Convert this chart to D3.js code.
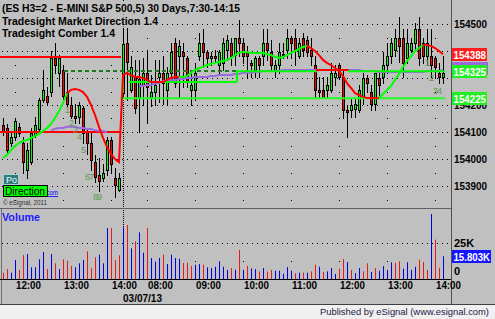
<!DOCTYPE html>
<html>
<head>
<meta charset="utf-8">
<script src="https://cdn.jsdelivr.net/npm/d3@7"></script>
<style>
  body { margin: 0; background: #c0c0c0; }
  svg { display: block; }
  text { font-family: "Liberation Sans", Arial, sans-serif; }
</style>
</head>
<body>
<div id="chart"></div>
<script>

// 5 min bars: 11:45..14:10 (day 1), then 07:30..14:10 on 03/07/13
var opens = [154125,154115,154060,154080,154120,154060,153960,153990,154090,154110,
  154220,154235,154250,154375,154320,154330,154250,154200,154160,154155,
  154190,154100,154060,153990,153940,153930,153960,154070,153930,153885,
  154245,154430,154255,154305,154230,154275,154320,154230,154250,154305,
  154320,154255,154320,154430,154380,154395,154375,154255,154255,154380,
  154430,154395,154375,154380,154350,154355,154405,154430,154385,154450,
  154430,154395,154355,154330,154375,154380,154430,154395,154330,154350,
  154390,154405,154450,154450,154380,154450,154440,154405,154350,154255,
  154255,154255,154255,154305,154350,154305,154180,154180,154185,154180,
  154225,154300,154250,154205,154300,154305,154350,154380,154405,154450,
  154450,154375,154405,154430,154480,154430,154380,154380,154375,154320,
  154305];
var highs = [154150,154130,154095,154150,154135,154080,154060,154115,154155,154225,
  154330,154265,154400,154430,154385,154350,154320,154230,154205,154210,
  154195,154115,154095,154015,154005,153980,154080,154080,153965,153950,
  154485,154485,154380,154365,154365,154375,154405,154310,154365,154365,
  154380,154340,154430,154450,154440,154430,154380,154320,154355,154465,
  154480,154405,154395,154405,154405,154450,154460,154450,154450,154515,
  154450,154420,154365,154380,154380,154480,154480,154440,154365,154430,
  154430,154480,154455,154480,154450,154465,154455,154450,154380,154305,
  154305,154305,154355,154350,154355,154330,154195,154225,154225,154275,
  154320,154310,154275,154320,154320,154395,154430,154450,154480,154525,
  154480,154480,154450,154505,154525,154450,154480,154480,154380,154355,
  154380];
var lows = [154090,154025,154050,154070,154085,153950,153930,153980,154080,154100,
  154210,154205,154235,154320,154270,154210,154195,154150,154135,154135,
  154060,154020,153960,153915,153880,153920,153940,153950,153860,153880,
  154225,154220,154250,154170,154100,154200,154135,154195,154200,154210,
  154205,154200,154300,154265,154225,154265,154265,154200,154220,154365,
  154340,154340,154350,154360,154320,154330,154365,154350,154350,154380,
  154355,154305,154305,154305,154305,154350,154365,154335,154305,154320,
  154375,154375,154375,154350,154375,154380,154380,154350,154225,154225,
  154225,154225,154250,154275,154295,154150,154080,154155,154155,154175,
  154205,154250,154180,154180,154225,154280,154320,154355,154380,154360,
  154305,154355,154395,154405,154350,154355,154350,154305,154300,154280,
  154280];
var closes = [154100,154035,154080,154140,154095,153990,154035,154095,154125,154220,
  154255,154210,154375,154350,154375,154235,154205,154160,154150,154200,
  154095,154060,153995,153935,153920,153950,154070,153980,153905,153930,
  154425,154360,154340,154190,154295,154320,154265,154250,154275,154320,
  154280,154320,154395,154280,154420,154380,154285,154275,154320,154430,
  154395,154375,154380,154375,154395,154430,154440,154380,154450,154430,
  154380,154380,154350,154375,154350,154430,154405,154350,154350,154395,
  154385,154450,154430,154405,154430,154405,154395,154380,154255,154250,
  154225,154275,154320,154320,154305,154180,154175,154200,154205,154255,
  154300,154280,154205,154320,154275,154350,154380,154430,154450,154420,
  154355,154430,154430,154480,154375,154380,154430,154350,154340,154305,
  154320];

// volume in thousands, colour B = blue, R = red
var volumes = [4.4,6.9,4.4,13.2,6.3,16.7,17.4,8.1,8.1,13.7,
  18.8,6.9,17.4,10.9,6.9,13.7,12.7,9.0,8.1,10.9,
  13.2,19.2,7.6,15.1,16.9,10.9,35.4,35.4,13.2,16.5,
  35.9,37.5,21.3,26.2,32.4,18.3,35.4,14.6,12.0,14.6,
  16.9,10.4,16.9,14.6,14.1,11.1,11.3,9.0,9.9,10.4,
  9.9,8.1,7.6,8.5,12.3,8.5,6.3,7.6,6.5,20.1,
  6.3,9.2,7.4,6.9,5.3,7.6,5.1,6.3,5.8,5.8,
  3.7,8.3,5.8,4.0,4.4,4.4,4.4,5.3,9.9,8.5,
  4.9,5.3,7.6,3.5,7.2,13.9,11.8,6.3,4.0,7.6,
  5.3,10.9,4.9,7.6,5.8,9.0,6.3,11.6,11.1,12.3,
  7.2,11.6,6.3,8.5,13.4,11.8,6.3,45.1,27.3,7.8,
  15.803];
var volColors = ("RRBBRRBBBBBRBRBRRRBBBRRRBBBRRR" +
  "BRBRBBRBBBRBBBBRRRBBRBBBBBBRBRBR" +
  "BBRBRRBBBBBRBRB" + "RRBRBBBRRBRBBRRBRBBBBRRBBBBRRRBRRB").split("");

// Tradesight Comber line
var comber = [154004,154015,154033,154048,154059,154067,154070,154078,154085,154093,
  154104,154115,154130,154152,154178,154207,154244,154256,154259,154256,
  154248,154230,154200,154163,154119,154078,154044,154019,154000,153989,
  154311,154319,154311,154304,154304,154300,154293,154285,154285,154285,
  154285,154293,154300,154304,154304,154304,154307,154319,154330,154337,
  154341,154348,154352,154356,154359,154363,154367,154374,154385,154393,
  154396,154396,154393,154393,154393,154393,154389,154385,154378,154374,
  154378,154385,154393,154400,154407,154415,154419,154411,154400,154385,
  154367,154356,154348,154337,154326,154307,154281,154263,154244,154237,
  154230,154226,154226,154226,154226,154241,154256,154270,154293,154315,
  154341,154363,154381,154400,154411,154422,154422,154419,154411,154400,
  154388];
var comberRuns = [[0,16,"up"],[16,44,"down"],[44,76,"up"],[76,94,"down"],[94,105,"up"],[105,110,"down"]];

// purple average line
var purple = [null,null,null,null,null,null,null,null,null,null,
  null,null,154107,154111,154115,154115,154119,154119,154119,154115,
  154115,154111,154111,154107,154104,154104,154100,null,null,null,
  null,null,null,null,154270,154270,154274,154274,154281,154281,
  154289,154289,154293,154293,154296,154296,154300,154300,154304,154304,
  154304,154304,154307,154307,154311,154311,154311,154311,154315,154315,
  154319,154319,154319,154322,154322,154326,154326,154326,154326,154326,
  154330,154330,154330,154330,154330,154330,154330,154330,154330,154330,
  154330,154330,154330,154330,154330,154330,154330,154330,154330,154330,
  154326,154326,154326,154326,154322,154322,154322,154322,154322,154322,
  154322,154322,154322,154322,154322,154322,154326,154326,154326,154326,
  154330];

// Market Direction stop line: [first bar, last bar, level, direction]
var stopRuns = [[32,58,154285,"up"],[59,78,154325,"up"],[79,86,154330,"down"],[87,110,154325,"up"]];

// horizontal levels: [first bar, last bar, level, style]
var levels = [[0,29,154378,"red"],[0,29,154100,"red"],[16,58,154326,"dash"],[30,110,154225,"lime"]];

// TD style counts
var countBars = [16,17,18,19,20,21,22,23,24,106,107,108,109];
var countText = ["1","2","3","4","5","6","7","8","9","1","2","3","4"];
var countLevel = [154181,154133,154107,154081,154033,153933,153933,153859,153859,154356,154300,154252,154252];

var priceTicks = [153900,154000,154100,154200,154300,154400,154500];
var priceLabels = [153900,154000,154100,154200,154500];
var halfLevels = [153850,153950,154050,154150,154250,154350,154450];
var tickBars = [3,15,27,36,48,60,72,84,96,108];
var tickLabels = ["12:00","13:00","14:00","08:00","09:00","10:00","11:00","12:00","13:00","14:00"];
var dayBreak = 30;

var W = 495, H = 319, plotRight = 452;

var x = d3.scaleLinear().domain([0, 110]).range([3, 443]);
var y = d3.scaleLinear().domain([153900, 154500]).range([186, 24]);
var yv = d3.scaleLinear().domain([0, 25]).range([279, 243]);

var RED = "#ff0000", GREEN = "#00ff00";

var svg = d3.select("#chart").append("svg")
    .attr("width", W).attr("height", H);

svg.append("rect").attr("width", W).attr("height", H).attr("fill", "#c0c0c0");

svg.append("clipPath").attr("id", "pc")
  .append("rect").attr("x", 0).attr("y", 0).attr("width", plotRight).attr("height", 207);

function fit(sel, w) { return sel.attr("textLength", w).attr("lengthAdjust", "spacingAndGlyphs"); }

// grid
var grid = svg.append("g");
grid.selectAll(".hg").data(priceTicks).enter().append("line")
  .attr("x1", 2).attr("x2", 449)
  .attr("y1", function(d){ return Math.round(y(d)) + 0.5; })
  .attr("y2", function(d){ return Math.round(y(d)) + 0.5; })
  .attr("stroke", "#000").attr("stroke-dasharray", "1,4");
grid.append("line").attr("x1", 2).attr("x2", 449)
  .attr("y1", Math.round(yv(25)) + 0.5).attr("y2", Math.round(yv(25)) + 0.5)
  .attr("stroke", "#000").attr("stroke-dasharray", "1,4");
tickBars.forEach(function(b){
  halfLevels.concat([null]).forEach(function(l){
    grid.append("rect")
      .attr("x", x(b)).attr("y", l === null ? Math.round(yv(12.5)) : Math.round(y(l)))
      .attr("width", 1).attr("height", 1).attr("fill", "#000");
  });
});
grid.append("line")
  .attr("x1", x(dayBreak) + 0.5).attr("x2", x(dayBreak) + 0.5)
  .attr("y1", 0).attr("y2", 279)
  .attr("stroke", "#000").attr("stroke-dasharray", "1,1");

// candles
var pane = svg.append("g").attr("clip-path", "url(#pc)");
var bars = pane.selectAll(".bar").data(d3.range(opens.length)).enter().append("g");
bars.append("line")
  .attr("x1", function(i){ return x(i) + 0.5; })
  .attr("x2", function(i){ return x(i) + 0.5; })
  .attr("y1", function(i){ return Math.round(y(highs[i])); })
  .attr("y2", function(i){ return Math.round(y(lows[i])) + 1; })
  .attr("stroke", "#000");
bars.append("rect")
  .attr("x", function(i){ return x(i) - 0.5; })
  .attr("y", function(i){ return Math.round(y(Math.max(opens[i], closes[i]))) + 0.5; })
  .attr("width", 2)
  .attr("height", function(i){
    return Math.max(1, Math.round(y(Math.min(opens[i], closes[i]))) - Math.round(y(Math.max(opens[i], closes[i]))));
  })
  .attr("fill", function(i){ return closes[i] >= opens[i] ? GREEN : RED; })
  .attr("stroke", "#000");

// studies
levels.forEach(function(l){
  pane.append("line")
    .attr("x1", x(l[0]) - 3).attr("x2", x(l[1]) + 2)
    .attr("y1", y(l[2])).attr("y2", y(l[2]))
    .attr("stroke", l[3] == "red" ? RED : l[3] == "dash" ? "#1e7a1e" : "#22ff22")
    .attr("stroke-width", 2)
    .attr("stroke-dasharray", l[3] == "dash" ? "4,3" : null);
});

var pline = d3.line()
  .defined(function(i){ return purple[i] !== null; })
  .x(function(i){ return x(i); })
  .y(function(i){ return y(purple[i]); });
pane.append("path").attr("d", pline(d3.range(purple.length)))
  .attr("fill", "none").attr("stroke", "#9a6ae0").attr("stroke-width", 2);

stopRuns.forEach(function(r, k){
  var pts = [];
  if (k > 0) pts.push([x(r[0]) - 2, y(stopRuns[k-1][2])]);
  pts.push([x(r[0]) - 2, y(r[2])]);
  pts.push([x(r[1]) + 2, y(r[2])]);
  pane.append("path").attr("d", d3.line()(pts))
    .attr("fill", "none").attr("stroke", r[3] == "up" ? GREEN : RED).attr("stroke-width", 2);
});

var cline = d3.line()
  .x(function(i){ return x(i); })
  .y(function(i){ return y(comber[i]); });
comberRuns.forEach(function(r){
  pane.append("path").attr("d", cline(d3.range(r[0], r[1] + 1)))
    .attr("fill", "none").attr("stroke", r[2] == "up" ? GREEN : RED).attr("stroke-width", 2);
});

// count labels
svg.selectAll(".cnt").data(countBars).enter().append("text")
  .attr("x", function(d){ return x(d) + 0.5; })
  .attr("y", function(d, i){ return y(countLevel[i]); })
  .attr("dy", "0.35em").attr("text-anchor", "middle")
  .attr("font-size", 9).attr("fill", "#5a9c4c")
  .text(function(d, i){ return countText[i]; });

// volume
svg.selectAll(".vol").data(volumes).enter().append("line")
  .attr("x1", function(d, i){ return x(i) + 0.5; })
  .attr("x2", function(d, i){ return x(i) + 0.5; })
  .attr("y1", yv(0)).attr("y2", function(d){ return yv(d); })
  .attr("stroke", function(d, i){ return volColors[i] == "B" ? "#0000e8" : "#e81818"; });

// frame
svg.append("line").attr("x1", 0).attr("x2", plotRight).attr("y1", 208.5).attr("y2", 208.5).attr("stroke", "#606060");
svg.append("line").attr("x1", 1.5).attr("x2", 1.5).attr("y1", 209).attr("y2", 304).attr("stroke", "#707070");
svg.append("line").attr("x1", 0).attr("x2", plotRight).attr("y1", 279.5).attr("y2", 279.5).attr("stroke", "#000");
svg.append("line").attr("x1", plotRight - 0.5).attr("x2", plotRight - 0.5).attr("y1", 0).attr("y2", 304).attr("stroke", "#505050");

// header, on a plain background like the original
var hdr = [["(ES H3=2 - E-MINI S&P 500,5) 30 Days,7:30-14:15", 12, 238],
           ["Tradesight Market Direction 1.4", 24.5, 156],
           ["Tradesight Comber 1.4", 37, 113]];
hdr.forEach(function(h){
  svg.append("rect").attr("x", 0).attr("y", h[1] - 10).attr("width", h[2] + 3).attr("height", 12).attr("fill", "#c0c0c0");
  fit(svg.append("text").attr("x", 2).attr("y", h[1])
    .attr("font-size", 11).attr("font-weight", "bold").attr("fill", "#000")
    .text(h[0]), h[2]);
});

// price axis
var ya = svg.append("g").attr("transform", "translate(" + plotRight + ",0)")
  .call(d3.axisRight(y).tickValues(priceLabels).tickSize(0).tickPadding(2).tickFormat(d3.format("d")));
ya.select(".domain").remove();
ya.attr("font-family", null).attr("font-size", 11).attr("font-weight", "bold");
ya.selectAll("text").attr("fill", "#000").attr("textLength", 33).attr("lengthAdjust", "spacingAndGlyphs");

function box(yy, fill, w, label) {
  svg.append("rect").attr("x", plotRight).attr("y", Math.round(yy) - 6).attr("width", w).attr("height", 13).attr("fill", fill);
  fit(svg.append("text").attr("x", plotRight + 1.5).attr("y", Math.round(yy) + 4.5)
    .attr("font-size", 11).attr("font-weight", "bold").attr("fill", "#fff")
    .text(label), w - 2.5);
}
svg.append("rect").attr("x", plotRight).attr("y", Math.round(y(purple[110])) - 8).attr("width", 36).attr("height", 13).attr("fill", "#9a6ae0");
box(y(comber[110]), "#ff1c1c", 35, d3.format("d")(comber[110]));
box(y(stopRuns[3][2]), "#22ee22", 35, d3.format("d")(stopRuns[3][2]));
box(y(levels[3][2]), "#22ee22", 35, d3.format("d")(levels[3][2]));

// volume axis
var va = svg.append("g").attr("transform", "translate(" + plotRight + ",0)")
  .call(d3.axisRight(yv).tickValues([0, 25]).tickSize(0).tickPadding(2)
    .tickFormat(function(d){ return d ? d + "K" : "0"; }));
va.select(".domain").remove();
va.attr("font-family", null).attr("font-size", 11).attr("font-weight", "bold");
va.selectAll("text").attr("fill", "#000");
va.selectAll(".tick").filter(function(d){ return d === 0; }).select("text").attr("y", -8);
box(yv(volumes[110]), "#1414ff", 39, d3.format(".3f")(volumes[110]) + "K");

fit(svg.append("text").attr("x", 2).attr("y", 221)
  .attr("font-size", 11).attr("font-weight", "bold").attr("fill", "#1c1cff").text("Volume"), 38);

// time axis
var xa = svg.append("g").attr("transform", "translate(0,281)")
  .call(d3.axisBottom(x).tickValues(tickBars).tickSize(0).tickPadding(0)
    .tickFormat(function(d, i){ return tickLabels[i]; }));
xa.select(".domain").remove();
xa.attr("font-family", null).attr("font-size", 11).attr("font-weight", "bold");
xa.selectAll("text").attr("fill", "#000").attr("text-anchor", "start").attr("dx", 0.5)
  .attr("textLength", 25).attr("lengthAdjust", "spacingAndGlyphs");
fit(svg.append("text").attr("x", x(dayBreak)).attr("y", 302)
  .attr("font-size", 11).attr("font-weight", "bold").attr("fill", "#000").text("03/07/13"), 39);

// badges
fit(svg.append("text").attr("x", 5).attr("y", 195)
  .attr("font-size", 8).attr("fill", "#0000ff").attr("text-decoration", "underline")
  .text("www.tradesight.com"), 53);
svg.append("rect").attr("x", 3.5).attr("y", 174.5).attr("width", 15).attr("height", 10)
  .attr("fill", "#2f7c7c").attr("stroke", "#a8d4d4");
svg.append("text").attr("x", 6).attr("y", 183).attr("font-size", 9).attr("fill", "#e8ffff").text("Po");
svg.append("rect").attr("x", 3.5).attr("y", 185.5).attr("width", 44).attr("height", 11)
  .attr("fill", "#00ff00").attr("stroke", "#000");
fit(svg.append("text").attr("x", 5).attr("y", 195).attr("font-size", 11).attr("fill", "#000").text("Direction"), 40);
fit(svg.append("text").attr("x", 3).attr("y", 205).attr("font-size", 7).attr("fill", "#303030").text("\u00a9 eSignal, 2011"), 44);

// status bar
svg.append("rect").attr("x", 0).attr("y", 305).attr("width", W).attr("height", 14).attr("fill", "#f0f0f0");
svg.append("line").attr("x1", 0).attr("x2", W).attr("y1", 304.5).attr("y2", 304.5).attr("stroke", "#404040");
fit(svg.append("text").attr("x", 320).attr("y", 315).attr("font-size", 9.5).attr("fill", "#1a1a48")
  .text("Published by eSignal (www.esignal.com)"), 169);

</script>
</body>
</html>
